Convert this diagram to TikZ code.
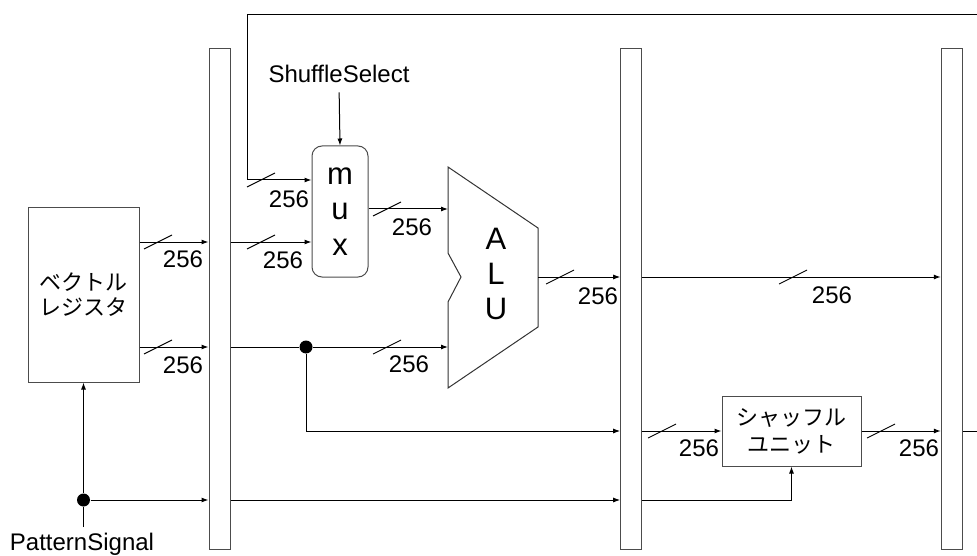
\documentclass[tikz,border=0pt]{standalone}
\usepackage{fontspec}
\setmainfont{Liberation Sans}
\newfontfamily\jpfont{Noto Sans CJK JP}
\usetikzlibrary{arrows.meta,positioning,calc}

\tikzset{
    buscut/.pic={\draw[line width=0.9pt] (-14,7) -- (14,-7);}
}

\begin{document}
\begin{tikzpicture}[
    x=1pt, y=-1pt, line width=1pt,
    bar/.style={rectangle, draw=black!70, minimum width=21pt, minimum height=500pt, inner sep=0pt},
    unit/.style={rectangle, draw=black!70, inner sep=0pt, align=center},
    wire/.style={-{Latex[length=7pt,width=5pt]}},
    num/.style={inner sep=0pt, font=\fontsize{24}{28}\selectfont},
    dot/.style={circle, fill, inner sep=0pt, minimum size=13pt}
]
    \useasboundingbox (0,0) rectangle (977,556);

    % rows
    \coordinate (rowF) at (0,180);
    \coordinate (rowA) at (0,242);
    \coordinate (rowC) at (0,277);
    \coordinate (rowB) at (0,347);
    \coordinate (rowS) at (0,431);
    \coordinate (rowP) at (0,500);

    % pipeline registers
    \node[bar] (bar1) at (219.5,299) {};
    \node[bar] (bar2) at (631.2,299) {};
    \node[bar] (bar3) at (951.8,299) {};

    % units
    \node[unit, minimum width=111pt, minimum height=174pt, font={\jpfont\fontsize{22}{25}\selectfont}] (reg) at (83.5,295) {ベクトル\\レジスタ};
    \node[unit, rounded corners=10pt, minimum width=56pt, minimum height=131pt, font=\fontsize{31}{35.5}\selectfont] (mux) at (340,211.5) {m\\u\\x};
    \node[unit, minimum width=139pt, minimum height=70pt, font={\jpfont\fontsize{22}{27}\selectfont}] (shuf) at (791.5,431) {シャッフル\\ユニット};

    % ALU
    \draw[draw=black!80] (448,167) -- (538,228) -- (538,327) -- (448,388) -- (448,302) -- (461,277) -- (448,253) -- cycle;
    \node[align=center, inner sep=0pt, font=\fontsize{31}{35}\selectfont] (alu) at (496,274) {A\\L\\U};
    \coordinate (alu-a) at (448,209);
    \coordinate (alu-b) at (448,347);
    \coordinate (alu-out) at (538,277);

    % labels
    \node[num] (sel) at (339,74) {ShuffleSelect};
    \node[num, anchor=base] (psig) at (82,550) {PatternSignal};
    \coordinate (pstop) at (83.5,527);
    \node[dot] (dot1) at (306,347) {};
    \node[dot] (dot2) at (83.5,500) {};

    % register -> bar1
    \draw[wire] (reg.east |- rowA) -- (bar1.west |- rowA);
    \pic at (158,242) {buscut};
    \node[num] (n1) at (183,259) {256};
    \draw[wire] (reg.east |- rowB) -- (bar1.west |- rowB);
    \pic at (158,347) {buscut};
    \node[num] (n2) at (183,365) {256};

    % bar1 -> mux / alu
    \draw[wire] (bar1.east |- rowA) -- (mux.west |- rowA);
    \pic at (261,242) {buscut};
    \node[num] (n3) at (283,260) {256};
    \draw[wire, shorten <=9pt] (sel.south) -- (mux.north);
    \draw[wire] (mux.east |- alu-a) -- (alu-a);
    \pic at (387,209) {buscut};
    \node[num] (n4) at (412,227) {256};
    \draw (bar1.east |- rowB) -- (dot1);
    \draw[wire] (dot1) -- (alu-b);
    \pic at (387,347) {buscut};
    \node[num] (n5) at (409,364) {256};
    \draw[wire] (dot1) |- (bar2.west |- rowS);

    % alu -> bar2 -> bar3
    \draw[wire] (alu-out) -- (bar2.west |- rowC);
    \pic at (560,277) {buscut};
    \node[num] (n6) at (598,296) {256};
    \draw[wire] (bar2.east |- rowC) -- (bar3.west |- rowC);
    \pic at (793,277) {buscut};
    \node[num] (n7) at (832,295) {256};

    % shuffle unit
    \draw[wire] (bar2.east |- rowS) -- (shuf.west);
    \pic at (662,431) {buscut};
    \node[num] (n8) at (699,448) {256};
    \draw[wire] (shuf.east) -- (bar3.west |- rowS);
    \pic at (881,431) {buscut};
    \node[num] (n9) at (919,448) {256};

    % feedback
    \coordinate (fbright) at (980,15);
    \coordinate (fbleft) at (247,15);
    \draw[wire] (bar3.east |- rowS) -| (fbright) -- (fbleft) |- (mux.west |- rowF);
    \pic at (261,180) {buscut};
    \node[num] (n10) at (289,199) {256};

    % pattern signal
    \draw (pstop) -- (dot2);
    \draw[wire] (dot2) -- (reg.south);
    \draw[wire] (dot2) -- (bar1.west |- rowP);
    \draw[wire] (bar1.east |- rowP) -- (bar2.west |- rowP);
    \draw[wire] (bar2.east |- rowP) -| (shuf.south);
\end{tikzpicture}
\end{document}
